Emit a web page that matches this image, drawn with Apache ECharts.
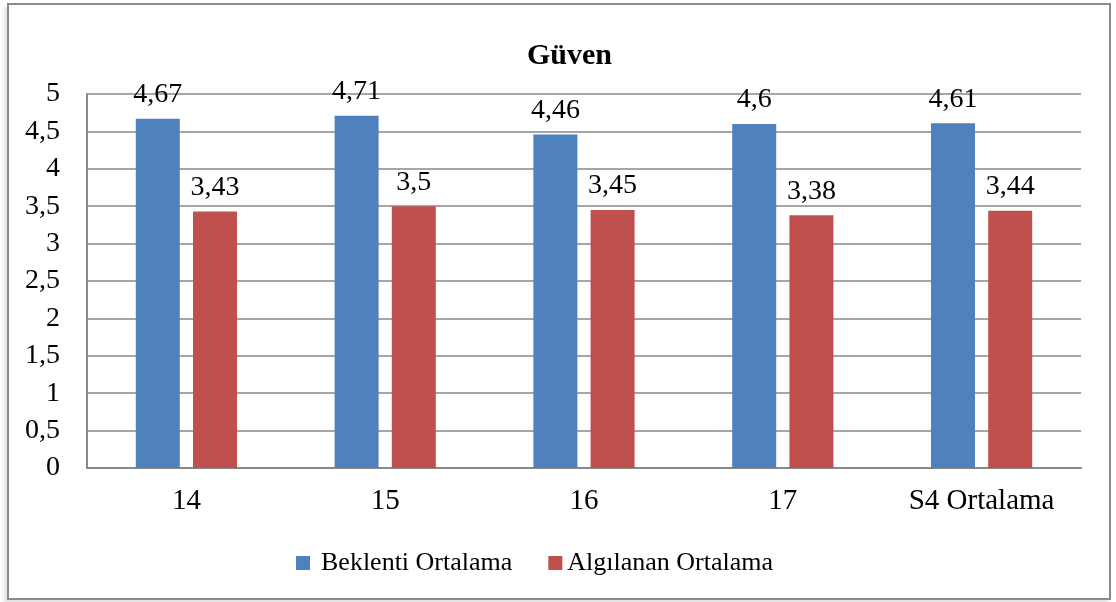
<!DOCTYPE html>
<html>
<head>
<meta charset="utf-8">
<script src="https://cdn.jsdelivr.net/npm/echarts@6/dist/echarts.min.js"></script>
<style>
  html, body { margin: 0; padding: 0; background: #ffffff; }
  #frame {
    position: absolute; left: 7px; top: 3px; width: 1100px; height: 593px;
    border: 2px solid #8a8a8a; box-shadow: -3px 4px 4px rgba(0,0,0,0.12);
    background: #fff;
  }
  #chart { position: absolute; left: 0; top: 0; width: 1116px; height: 602px; }
</style>
</head>
<body>
<div id="frame"></div>
<div id="chart"></div>
<script>
// Chart data
const categories = ['14', '15', '16', '17', 'S4 Ortalama'];
const beklenti = [4.67, 4.71, 4.46, 4.6, 4.61];
const algilanan = [3.43, 3.5, 3.45, 3.38, 3.44];
const seriesNames = ['Beklenti Ortalama', 'Algılanan Ortalama'];
const chartTitle = 'Güven';

const font = 'Liberation Serif, Times New Roman, serif';
const fmt = v => String(v).replace('.', ',');

const chart = echarts.init(document.getElementById('chart'), null, { renderer: 'canvas' });

const labelStyle = {
  show: true, position: 'top', distance: 10,
  fontFamily: font, fontSize: 28, color: '#000',
  formatter: p => fmt(p.value)
};

chart.setOption({
  backgroundColor: 'transparent',
  animation: false,
  title: {
    text: chartTitle, left: 522, top: 36,
    textStyle: { fontFamily: font, fontSize: 30, fontWeight: 'bold', color: '#000' }
  },
  legend: {
    top: 545, left: 291, itemWidth: 14, itemHeight: 14, itemGap: 36,
    icon: 'rect',
    textStyle: { fontFamily: font, fontSize: 26, color: '#000' },
    data: [
      { name: seriesNames[0], textStyle: { padding: [0, 0, 0, 6] } },
      { name: seriesNames[1] }
    ]
  },
  grid: { left: 87, right: 35, top: 94, bottom: 134 },
  xAxis: {
    type: 'category', data: categories,
    axisLine: { lineStyle: { color: '#888', width: 2 } },
    axisTick: { show: false },
    axisLabel: { fontFamily: font, fontSize: 29, color: '#000', margin: 19 }
  },
  yAxis: {
    type: 'value', min: 0, max: 5, interval: 0.5,
    axisLine: { show: true, lineStyle: { color: '#888', width: 2 } },
    axisTick: { show: false },
    splitLine: { lineStyle: { color: '#888', width: 1.5 } },
    axisLabel: { fontFamily: font, fontSize: 28, color: '#000', margin: 27, formatter: v => fmt(v) }
  },
  series: [
    { name: seriesNames[0], type: 'bar', data: beklenti, barWidth: 44, barGap: '30%',
      itemStyle: { color: '#4F81BD' }, label: labelStyle },
    { name: seriesNames[1], type: 'bar', data: algilanan, barWidth: 44, barGap: '30%',
      itemStyle: { color: '#C0504D' }, label: labelStyle }
  ]
});
</script>
</body>
</html>
